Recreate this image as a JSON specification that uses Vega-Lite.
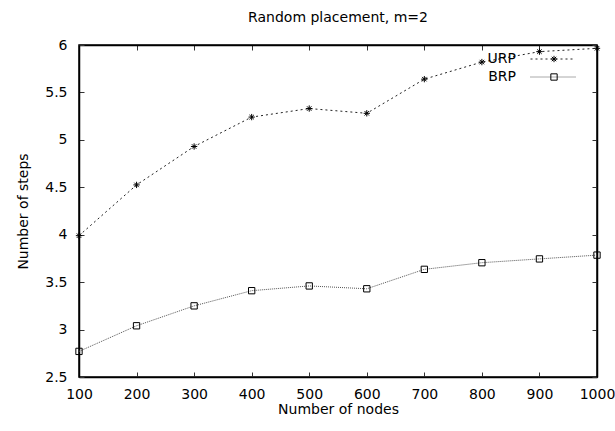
{
  "$schema": "https://vega.github.io/schema/vega-lite/v6.json",
  "width": 518,
  "height": 332,
  "autosize": {"type": "none"},
  "padding": {"left": 79, "top": 45, "right": 18, "bottom": 54},
  "title": {"text": "Random placement, m=2", "fontSize": 14, "font": "DejaVu Sans", "fontWeight": "normal", "offset": 13, "color": "#000", "anchor": "middle"},
  "config": {
    "font": "DejaVu Sans",
    "view": {"stroke": "#000", "strokeWidth": 1.5},
    "axis": {"grid": false, "tickSize": -5, "tickColor": "#333", "tickWidth": 1, "domainColor": "#000", "domainWidth": 1.5, "labelFlush": false, "labelOverlap": false,
      "labelFontSize": 14, "labelColor": "#000", "titleFontSize": 14, "titleFontWeight": "normal", "titleColor": "#000", "labelFont": "DejaVu Sans", "titleFont": "DejaVu Sans"}
  },
  "data": {"values": [
    {"nodes": 100, "steps": 3.99, "series": "URP"},
    {"nodes": 200, "steps": 4.525, "series": "URP"},
    {"nodes": 300, "steps": 4.93, "series": "URP"},
    {"nodes": 400, "steps": 5.24, "series": "URP"},
    {"nodes": 500, "steps": 5.33, "series": "URP"},
    {"nodes": 600, "steps": 5.28, "series": "URP"},
    {"nodes": 700, "steps": 5.64, "series": "URP"},
    {"nodes": 800, "steps": 5.82, "series": "URP"},
    {"nodes": 900, "steps": 5.93, "series": "URP"},
    {"nodes": 1000, "steps": 5.965, "series": "URP"},
    {"nodes": 100, "steps": 2.77, "series": "BRP"},
    {"nodes": 200, "steps": 3.04, "series": "BRP"},
    {"nodes": 300, "steps": 3.25, "series": "BRP"},
    {"nodes": 400, "steps": 3.41, "series": "BRP"},
    {"nodes": 500, "steps": 3.46, "series": "BRP"},
    {"nodes": 600, "steps": 3.43, "series": "BRP"},
    {"nodes": 700, "steps": 3.635, "series": "BRP"},
    {"nodes": 800, "steps": 3.705, "series": "BRP"},
    {"nodes": 900, "steps": 3.745, "series": "BRP"},
    {"nodes": 1000, "steps": 3.785, "series": "BRP"}
  ]},
  "layer": [
    {
      "mark": {"type": "line", "interpolate": "linear", "strokeWidth": 1},
      "encoding": {
        "x": {"field": "nodes", "type": "quantitative", "scale": {"domain": [100, 1000], "nice": false},
          "axis": {"orient": "bottom", "values": [100, 200, 300, 400, 500, 600, 700, 800, 900, 1000], "format": "d", "title": "Number of nodes", "labelPadding": 15, "titlePadding": 1}},
        "y": {"field": "steps", "type": "quantitative", "scale": {"domain": [2.5, 6], "nice": false, "zero": false},
          "axis": {"orient": "left", "values": [2.5, 3, 3.5, 4, 4.5, 5, 5.5, 6], "format": ".1~f", "title": "Number of steps", "labelPadding": 17, "titlePadding": 14}},
        "color": {"field": "series", "type": "nominal", "scale": {"domain": ["URP", "BRP"], "range": ["#222", "#555"]},
          "legend": {"orient": "none", "legendX": 467, "legendY": 7, "title": null, "symbolType": "M-5,0H5", "symbolSize": 81, "symbolStrokeWidth": 1,
            "labelAlign": "right", "labelOffset": -44, "labelFontSize": 14, "labelColor": "#000", "rowPadding": 4, "padding": 0}},
        "strokeDash": {"field": "series", "type": "nominal", "scale": {"domain": ["URP", "BRP"], "range": [[2, 3], [1, 1]]},
          "legend": {"orient": "none", "legendX": 467, "legendY": 7, "title": null, "symbolType": "M-5,0H5", "symbolSize": 81, "symbolStrokeWidth": 1,
            "labelAlign": "right", "labelOffset": -44, "labelFontSize": 14, "labelColor": "#000", "rowPadding": 4, "padding": 0}}
      }
    },
    {
      "transform": [{"filter": "datum.steps > 0"}],
      "mark": {"type": "point", "filled": false, "strokeWidth": 1, "size": 40, "color": "#000", "opacity": 1},
      "encoding": {
        "x": {"field": "nodes", "type": "quantitative", "scale": {"domain": [100, 1000], "nice": false},
          "axis": {"orient": "top", "values": [100, 200, 300, 400, 500, 600, 700, 800, 900, 1000], "labels": false, "title": null}},
        "y": {"field": "steps", "type": "quantitative", "scale": {"domain": [2.5, 6], "nice": false, "zero": false},
          "axis": {"orient": "right", "values": [2.5, 3, 3.5, 4, 4.5, 5, 5.5, 6], "labels": false, "title": null}},
        "shape": {"field": "series", "type": "nominal", "scale": {"range": ["square", "M-1,0H1M0,-1V1M-0.7,-0.7L0.7,0.7M-0.7,0.7L0.7,-0.7"]},
          "legend": {"orient": "none", "legendX": 468, "legendY": 7, "title": null, "values": ["URP", "BRP"], "symbolSize": 40, "symbolStrokeColor": "#000", "symbolFillColor": "transparent", "symbolStrokeWidth": 1,
            "labelFontSize": 14, "labelOpacity": 0, "rowPadding": 4, "padding": 0}}
      }
    }
  ],
  "resolve": {"axis": {"x": "independent", "y": "independent"}}
}
